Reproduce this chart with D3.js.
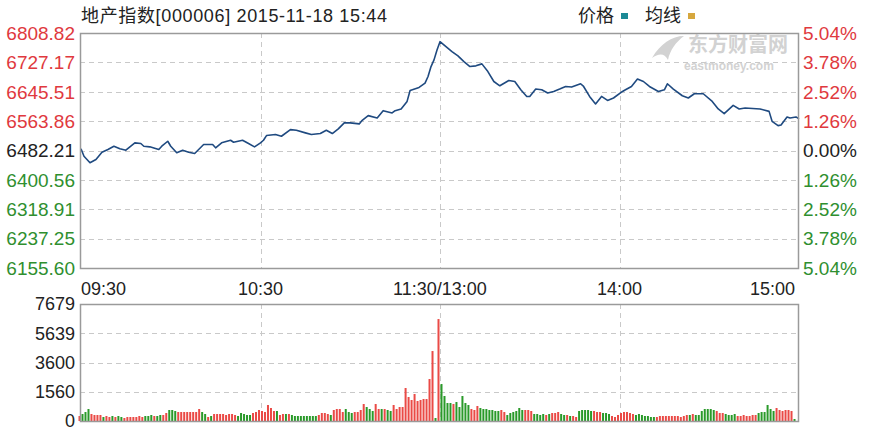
<!DOCTYPE html>
<html>
<head>
<meta charset="utf-8">
<script src="https://cdn.jsdelivr.net/npm/d3@7"></script>
<style>
  body { margin: 0; background: #fff; }
  svg { display: block; font-family: "Liberation Sans", Arial, "Noto Sans CJK SC", sans-serif; }
</style>
</head>
<body>
<div id="chart"></div>
<script>
// ---- data ----
const prevClose = 6482.21
const titleText = '地产指数[000006] 2015-11-18 15:44'

// price ticks (left) and change ticks (right)
const priceTicks = ['6808.82', '6727.17', '6645.51', '6563.86', '6482.21', '6400.56', '6318.91', '6237.25', '6155.60']
const pctTicks = ['5.04%', '3.78%', '2.52%', '1.26%', '0.00%', '1.26%', '2.52%', '3.78%', '5.04%']

// volume ticks
const volTicks = ['7679', '5639', '3600', '1560', '0']

// time ticks (minute index from 09:30)
const timeIdx = [0, 60, 120, 180, 240]
const timeLabels = ['09:30', '10:30', '11:30/13:00', '14:00', '15:00']

// price line: minute index and price
const priceIdx = [0, 1, 3, 5, 7, 9, 11, 13, 15, 18, 20, 21, 23, 26, 27, 29, 30, 32, 34, 36, 38, 41, 44, 45, 47, 50, 51, 54, 56, 58,
    60, 61, 62, 65, 67, 70, 72, 75, 77, 80, 82, 84, 86, 88, 90, 93, 94, 96, 99, 101, 104, 105, 107, 109, 110, 113, 115, 116, 117, 118,
    119, 120, 122, 124, 126, 128, 130, 132, 134, 136, 138, 140, 143, 145, 147, 149, 150, 152, 154, 156, 158, 160, 162, 164, 167, 168,
    170, 172, 174, 176, 178, 181, 182, 184, 186, 188, 190, 193, 195, 196, 198, 201, 203, 205, 208, 211, 213, 215, 218, 220, 222, 227,
    230, 231, 233, 234, 236, 237, 239, 240]
const priceVal = [6486.9, 6466.4, 6448.2, 6457.3, 6477.5, 6485.0, 6494.1, 6486.9, 6483.0, 6503.5, 6501.6, 6494.1, 6492.4, 6485.0, 6494.1, 6507.9, 6494.1, 6475.8, 6483.0, 6477.5, 6473.9, 6498.8, 6498.8, 6489.7, 6503.5, 6510.7, 6505.2, 6510.7, 6501.6, 6492.4,
    6503.5, 6510.7, 6523.7, 6526.5, 6521.8, 6540.3, 6538.4, 6531.2, 6526.5, 6529.3, 6538.4, 6529.3, 6542.3, 6558.9, 6558.9, 6556.1, 6566.1, 6579.1, 6572.7, 6592.9, 6586.6, 6592.9, 6597.6, 6618.7, 6649.1, 6657.4, 6669.6, 6687.9, 6715.5, 6734.1,
    6761.8, 6784.7, 6770.9, 6757.1, 6745.2, 6729.4, 6715.5, 6717.5, 6723.0, 6701.7, 6674.0, 6662.1, 6676.8, 6674.0, 6651.0, 6632.5, 6632.5, 6653.0, 6651.0, 6641.9, 6646.3, 6653.0, 6660.2, 6658.5, 6667.7, 6660.2,
    6632.5, 6611.5, 6632.5, 6621.4, 6628.1, 6646.3, 6651.0, 6660.2, 6680.7, 6674.0, 6660.2, 6646.3, 6651.0, 6667.7, 6653.0, 6634.4, 6628.1, 6640.0, 6640.0, 6618.7, 6597.6, 6584.6, 6607.6, 6597.6, 6600.4, 6597.6,
    6591.0, 6563.3, 6551.4, 6553.3, 6575.5, 6572.7, 6575.5, 6569.9]

// volume per minute (index 0..239)
const volumes = [328, 459, 590, 787, 459, 394, 394, 394, 262, 328, 262, 328, 262, 328, 262, 197, 262, 262, 262, 262,
    328, 262, 328, 328, 394, 328, 328, 394, 394, 525, 722, 722, 656, 590, 590, 590, 590, 590, 590, 590,
    787, 590, 459, 262, 328, 459, 459, 459, 459, 394, 459, 459, 394, 328, 525, 459, 394, 394, 525, 590,
    722, 656, 590, 1050, 853, 656, 656, 394, 459, 459, 459, 394, 328, 328, 328, 328, 328, 328, 328, 328,
    394, 525, 525, 459, 394, 722, 787, 787, 590, 787, 590, 525, 590, 590, 722, 1115, 918, 787, 656, 1115,
    787, 787, 787, 722, 656, 1050, 787, 918, 918, 2165, 1574, 1378, 1771, 1312, 1378, 1443, 1443, 2755, 4592, 197,
    6691, 2427, 1640, 1181, 1181, 1115, 1246, 918, 1640, 1181, 1050, 787, 722, 984, 853, 787, 787, 722, 722, 656,
    656, 722, 590, 394, 525, 590, 656, 853, 722, 722, 722, 656, 459, 459, 394, 459, 394, 459, 525, 525,
    590, 459, 394, 394, 328, 328, 262, 656, 722, 722, 722, 656, 656, 590, 590, 525, 525, 459, 328, 262,
    394, 525, 590, 590, 525, 459, 394, 459, 394, 328, 328, 262, 262, 262, 328, 328, 328, 328, 328, 328,
    328, 262, 328, 394, 394, 459, 394, 394, 656, 787, 787, 787, 722, 656, 525, 525, 459, 394, 394, 459,
    328, 328, 394, 328, 328, 394, 394, 525, 590, 590, 1050, 787, 656, 853, 722, 656, 722, 722, 656, 131]
// 1 = red (up), 0 = green (down)
const volUp = [1, 0, 0, 0, 1, 1, 1, 1, 0, 1, 1, 0, 1, 0, 0, 1, 1, 1, 1, 1,
    1, 1, 0, 0, 0, 1, 0, 0, 1, 1, 0, 0, 0, 1, 1, 1, 1, 1, 1, 1,
    1, 0, 0, 1, 0, 1, 1, 1, 1, 1, 1, 1, 1, 0, 0, 0, 0, 0, 1, 1,
    1, 1, 1, 1, 1, 1, 0, 1, 1, 0, 1, 0, 0, 0, 0, 0, 0, 0, 0, 0,
    1, 1, 1, 1, 0, 1, 1, 1, 1, 0, 0, 0, 1, 1, 1, 1, 0, 0, 0, 1,
    1, 0, 1, 0, 0, 1, 1, 1, 1, 1, 1, 1, 1, 1, 1, 1, 1, 1, 1, 0,
    1, 0, 0, 0, 0, 1, 0, 0, 0, 0, 0, 1, 1, 1, 0, 0, 0, 0, 0, 0,
    0, 1, 1, 0, 0, 0, 0, 0, 0, 1, 1, 1, 0, 0, 0, 0, 1, 0, 1, 1,
    1, 0, 0, 1, 0, 1, 1, 0, 0, 0, 0, 0, 1, 1, 1, 0, 0, 0, 1, 1,
    1, 1, 1, 1, 1, 1, 0, 0, 0, 0, 0, 0, 0, 1, 1, 1, 1, 1, 1, 1,
    1, 1, 1, 1, 0, 1, 0, 0, 0, 0, 0, 0, 0, 1, 1, 1, 0, 0, 0, 0,
    1, 1, 1, 1, 1, 1, 1, 0, 0, 0, 0, 0, 0, 1, 1, 1, 1, 1, 1, 0]

class minute_chart {
    constructor() {
        this.width = 873
        this.height = 431

        // panel boxes
        this.left = 80
        this.right = 798
        this.priceTop = 33
        this.priceBottom = 268
        this.volTop = 304
        this.volBottom = 421

        this.red = '#e0393e'
        this.green = '#2f8f2f'
        this.gridColor = '#c9c9c9'

        // scales
        this.xScale = d3.scaleLinear()
            .domain([0, 240])
            .range([81, 799])

        this.priceScale = d3.scaleLinear()
            .domain([+priceTicks[priceTicks.length - 1], +priceTicks[0]])
            .range([this.priceBottom, this.priceTop])

        this.volScale = d3.scaleLinear()
            .domain([0, +volTicks[0]])
            .range([this.volBottom, this.volTop])

        this.svg = d3.select('#chart').append('svg')
            .attr('width', this.width)
            .attr('height', this.height)
    }

    draw() {
        this.header()
        this.watermark()
        this.price_panel()
        this.volume_panel()
        this.time_axis()
    }

    header() {
        let svg = this.svg

        // Title, stretched to the width it has in the picture
        svg.append('text')
            .attr('x', 81)
            .attr('y', 22)
            .attr('textLength', 306)
            .attr('lengthAdjust', 'spacing')
            .style('font-size', '18px')
            .style('fill', '#222')
            .text(titleText)

        // Legend
        let legend = [{ name: '价格', color: '#1c8a96', x: 578 }, { name: '均线', color: '#d6a73e', x: 645 }]
        let g = svg.append('g')
        g.selectAll('text')
            .data(legend)
            .join('text')
            .attr('x', d => d.x)
            .attr('y', 22)
            .style('font-size', '18px')
            .style('fill', '#222')
            .text(d => d.name)
        g.selectAll('rect')
            .data(legend)
            .join('rect')
            .attr('x', d => d.x + 43)
            .attr('y', 13)
            .attr('width', 7)
            .attr('height', 6)
            .style('fill', d => d.color)
    }

    watermark() {
        let g = this.svg.append('g').style('fill', '#d2d2d2')

        // little swoosh logo
        g.append('path')
            .attr('d', 'M652,58 C660,44 672,36 684,36 C676,42 670,50 668,60 C664,52 658,54 652,58 Z')
        g.append('text')
            .attr('x', 688)
            .attr('y', 52)
            .style('font-size', '20px')
            .style('font-weight', 'bold')
            .style('font-family', '"Noto Sans CJK SC", sans-serif')
            .text('东方财富网')
        g.append('text')
            .attr('x', 684)
            .attr('y', 70)
            .style('font-size', '12px')
            .style('font-weight', 'bold')
            .text('eastmoney.com')
    }

    grid(top, bottom, rows) {
        let g = this.svg.append('g')
            .style('stroke', this.gridColor)
            .style('stroke-dasharray', '5,4')

        // horizontal lines
        g.selectAll('.h')
            .data(rows)
            .join('line')
            .attr('x1', this.left)
            .attr('x2', this.right)
            .attr('y1', d => d)
            .attr('y2', d => d)

        // vertical lines at 10:30, 11:30/13:00, 14:00
        g.selectAll('.v')
            .data(timeIdx.slice(1, 4))
            .join('line')
            .attr('x1', d => Math.round(this.xScale(d)) + 0.5)
            .attr('x2', d => Math.round(this.xScale(d)) + 0.5)
            .attr('y1', top)
            .attr('y2', bottom)
    }

    price_panel() {
        let svg = this.svg
        let rows = priceTicks.slice(1, -1).map(d => Math.round(this.priceScale(+d)) + 0.5)
        this.grid(this.priceTop, this.priceBottom, rows)

        // Price line
        let data = priceIdx.map((d, i) => [d, priceVal[i]])
        let line = d3.line()
            .x(d => this.xScale(d[0]))
            .y(d => this.priceScale(d[1]))
        svg.append('path')
            .datum(data)
            .attr('d', line)
            .style('fill', 'none')
            .style('stroke', '#1f4a80')
            .style('stroke-width', 1.6)
            .style('stroke-linejoin', 'round')

        // Border
        svg.append('rect')
            .attr('x', this.left + 0.5)
            .attr('y', this.priceTop + 0.5)
            .attr('width', this.right - this.left)
            .attr('height', this.priceBottom - this.priceTop)
            .style('fill', 'none')
            .style('stroke', '#9a9a9a')
            .style('stroke-width', 1.5)

        let colorOf = d => (+d > prevClose + 0.01 ? this.red : (+d < prevClose - 0.01 ? this.green : '#222'))

        // Left price labels
        svg.append('g').selectAll('text')
            .data(priceTicks)
            .join('text')
            .attr('x', 75)
            .attr('y', d => this.priceScale(+d))
            .attr('dy', '0.36em')
            .attr('text-anchor', 'end')
            .style('font-size', '19px')
            .style('fill', colorOf)
            .text(d => d)

        // Right percent labels
        svg.append('g').selectAll('text')
            .data(pctTicks)
            .join('text')
            .attr('x', 803)
            .attr('y', (d, i) => this.priceScale(+priceTicks[i]))
            .attr('dy', '0.36em')
            .style('font-size', '19px')
            .style('fill', (d, i) => colorOf(priceTicks[i]))
            .text(d => d)
    }

    volume_panel() {
        let svg = this.svg
        let vmax = +volTicks[0]
        let tickY = volTicks.map((d, i) => this.volScale(vmax * (volTicks.length - 1 - i) / (volTicks.length - 1)))
        this.grid(this.volTop, this.volBottom, tickY.slice(1, -1).map(d => Math.round(d) + 0.5))

        // Volume bars
        svg.append('g').selectAll('rect')
            .data(volumes)
            .join('rect')
            .attr('x', (d, i) => this.xScale(i) - 2.5)
            .attr('y', d => this.volScale(d))
            .attr('width', 2)
            .attr('height', d => this.volBottom - this.volScale(d))
            .style('fill', (d, i) => volUp[i] ? '#ea4a46' : '#2a9a2a')

        // Border
        svg.append('rect')
            .attr('x', this.left + 0.5)
            .attr('y', this.volTop + 0.5)
            .attr('width', this.right - this.left)
            .attr('height', this.volBottom - this.volTop)
            .style('fill', 'none')
            .style('stroke', '#9a9a9a')
            .style('stroke-width', 1.5)

        // Volume labels
        svg.append('g').selectAll('text')
            .data(volTicks)
            .join('text')
            .attr('x', 75)
            .attr('y', (d, i) => tickY[i])
            .attr('dy', '0.36em')
            .attr('text-anchor', 'end')
            .style('font-size', '18px')
            .style('fill', '#222')
            .text(d => d)
    }

    time_axis() {
        let anchors = ['start', 'middle', 'middle', 'middle', 'end']
        this.svg.append('g').selectAll('text')
            .data(timeLabels)
            .join('text')
            .attr('x', (d, i) => i == 0 ? this.left + 1 : (i == 4 ? this.right - 3 : this.xScale(timeIdx[i])))
            .attr('y', 295)
            .attr('text-anchor', (d, i) => anchors[i])
            .style('font-size', '18px')
            .style('fill', '#222')
            .text(d => d)
    }
}

const chart = new minute_chart()
chart.draw()
</script>
</body>
</html>
